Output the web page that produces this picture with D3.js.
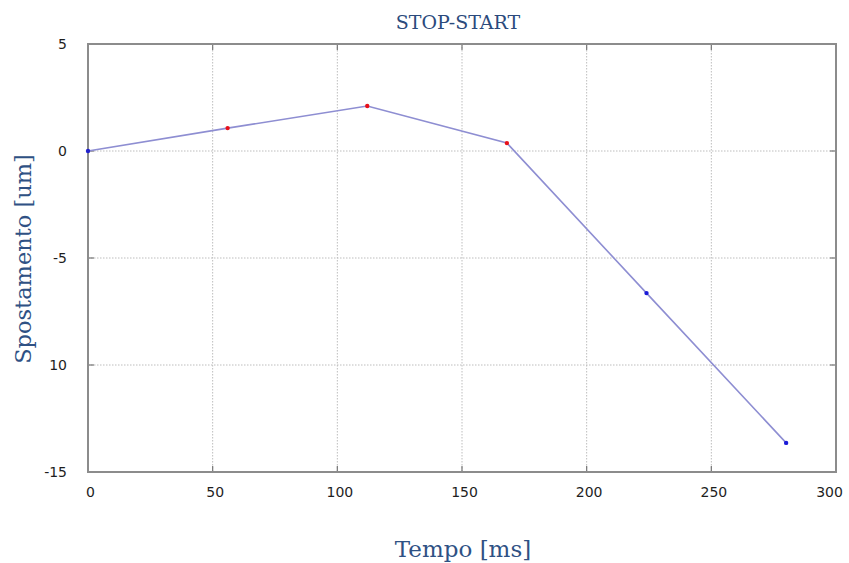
<!DOCTYPE html>
<html>
<head>
<meta charset="utf-8">
<script src="https://cdn.jsdelivr.net/npm/d3@7"></script>
<style>
  html, body { margin: 0; padding: 0; background: #fff; }
  svg { display: block; }
</style>
</head>
<body>
<svg id="chart" width="849" height="563"></svg>
<script>
// Displacement samples over time
const timeMs = [0, 56, 112, 168, 224, 280];
const displacementUm = [0, 1.07, 2.1, 0.37, -6.64, -13.64];
const pointColor = ["#2222cc", "#e8101a", "#e8101a", "#e8101a", "#1a1ad8", "#1a1ad8"];

const xTicks = [0, 50, 100, 150, 200, 250, 300];
const yTicks = [5, 0, -5, -10, -15];
const yTickLabels = ["5", "0", "-5", "10", "-15"];

const titleText = "STOP-START";
const xLabel = "Tempo [ms]";
const yLabel = "Spostamento [um]";

const svg = d3.select("#chart");
const m = { left: 88, right: 836, top: 44, bottom: 472 };

const x = d3.scaleLinear().domain([0, 300]).range([m.left, m.right]);
const y = d3.scaleLinear().domain([-15, 5]).range([m.bottom, m.top]);

// dotted grid
const grid = svg.append("g");
grid.selectAll("line.gx").data(xTicks.slice(1, -1)).join("line")
  .attr("x1", d => x(d)).attr("x2", d => x(d))
  .attr("y1", m.top).attr("y2", m.bottom)
  .attr("stroke", "#bdbdbd").attr("stroke-width", 1).attr("stroke-dasharray", "1.5,1.5");
grid.selectAll("line.gy").data(yTicks.slice(1, -1)).join("line")
  .attr("x1", m.left).attr("x2", m.right)
  .attr("y1", d => y(d)).attr("y2", d => y(d))
  .attr("stroke", "#bdbdbd").attr("stroke-width", 1).attr("stroke-dasharray", "1.5,1.5");

// small tick marks inside the frame
const tickG = svg.append("g").attr("stroke", "#777").attr("stroke-width", 1.2);
xTicks.slice(1, -1).forEach(d => {
  tickG.append("line").attr("x1", x(d)).attr("x2", x(d)).attr("y1", m.bottom).attr("y2", m.bottom - 6);
  tickG.append("line").attr("x1", x(d)).attr("x2", x(d)).attr("y1", m.top).attr("y2", m.top + 6);
});
yTicks.slice(1, -1).forEach(d => {
  tickG.append("line").attr("x1", m.left).attr("x2", m.left + 6).attr("y1", y(d)).attr("y2", y(d));
  tickG.append("line").attr("x1", m.right).attr("x2", m.right - 6).attr("y1", y(d)).attr("y2", y(d));
});

// frame
svg.append("rect")
  .attr("x", m.left).attr("y", m.top)
  .attr("width", m.right - m.left).attr("height", m.bottom - m.top)
  .attr("fill", "none").attr("stroke", "#8c8c8c").attr("stroke-width", 2);

// axes labels via d3 axes (lines hidden)
const xAxis = svg.append("g").attr("transform", `translate(0,${m.bottom})`)
  .call(d3.axisBottom(x).tickValues(xTicks).tickSize(0).tickPadding(15));
const yAxis = svg.append("g").attr("transform", `translate(${m.left},0)`)
  .call(d3.axisLeft(y).tickValues(yTicks).tickSize(0).tickPadding(21)
    .tickFormat((d, i) => yTickLabels[i]));
[xAxis, yAxis].forEach(a => {
  a.select(".domain").remove();
  a.selectAll("text").attr("font-family", "'DejaVu Sans', sans-serif")
    .attr("font-size", 14).attr("fill", "#1e1e1e");
});
xAxis.selectAll("text").attr("dx", (d, i) => i === xTicks.length - 1 ? -7 : 2);

// data line
const line = d3.line().x((d, i) => x(timeMs[i])).y(d => y(d));
svg.append("path")
  .datum(displacementUm)
  .attr("d", line)
  .attr("fill", "none").attr("stroke", "#8e8ed2").attr("stroke-width", 1.6);

svg.append("g").selectAll("circle").data(displacementUm).join("circle")
  .attr("cx", (d, i) => x(timeMs[i])).attr("cy", d => y(d))
  .attr("r", 2.2).attr("fill", (d, i) => pointColor[i]);

// titles
svg.append("text").attr("x", 458).attr("y", 29).attr("text-anchor", "middle")
  .attr("font-family", "'DejaVu Serif', serif").attr("font-size", 19)
  .attr("fill", "#2b4a7c").text(titleText);
svg.append("text").attr("x", 463).attr("y", 557).attr("text-anchor", "middle")
  .attr("font-family", "'DejaVu Serif', serif").attr("font-size", 23)
  .attr("fill", "#2f5184").text(xLabel);
svg.append("text").attr("transform", "translate(31,259) rotate(-90)")
  .attr("text-anchor", "middle")
  .attr("font-family", "'DejaVu Serif', serif").attr("font-size", 22.5)
  .attr("fill", "#2f5184").text(yLabel);
</script>
</body>
</html>
